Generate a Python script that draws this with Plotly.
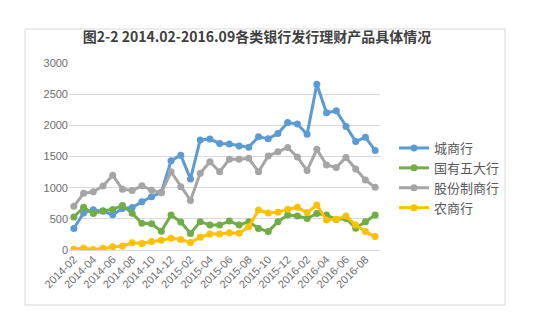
import plotly.graph_objects as go

months = ["2014-02", "2014-03", "2014-04", "2014-05", "2014-06", "2014-07", "2014-08", "2014-09",
          "2014-10", "2014-11", "2014-12", "2015-01", "2015-02", "2015-03", "2015-04", "2015-05",
          "2015-06", "2015-07", "2015-08", "2015-09", "2015-10", "2015-11", "2015-12", "2016-01",
          "2016-02", "2016-03", "2016-04", "2016-05", "2016-06", "2016-07", "2016-08", "2016-09"]

city_banks = [345, 595, 645, 620, 565, 665, 680, 775, 855, 925, 1430, 1520, 1140, 1765, 1780, 1710,
              1700, 1670, 1650, 1815, 1785, 1870, 2045, 2020, 1855, 2660, 2200, 2235, 1980, 1740, 1810, 1595]
big_five = [530, 685, 585, 630, 650, 715, 590, 430, 420, 300, 560, 450, 265, 455, 400, 400,
            465, 400, 455, 345, 295, 455, 560, 545, 505, 585, 560, 490, 505, 350, 455, 560]
joint_stock = [700, 910, 935, 1025, 1200, 975, 955, 1030, 960, 920, 1255, 1015, 795, 1230, 1415, 1255,
               1455, 1455, 1470, 1255, 1510, 1575, 1645, 1490, 1275, 1615, 1365, 1325, 1485, 1300, 1125, 1005]
rural = [12, 30, 8, 30, 52, 65, 115, 105, 135, 155, 190, 170, 120, 205, 255, 258,
         278, 268, 375, 640, 595, 604, 652, 684, 600, 722, 482, 492, 545, 400, 295, 215]

series_names = ["城商行", "国有五大行", "股份制商行", "农商行"]
series_values = [city_banks, big_five, joint_stock, rural]
colors = ["#5B9BD5", "#70AD47", "#A5A5A5", "#FFC000"]

tick_labels = months[::2]

fig = go.Figure()
for name, vals, col in zip(series_names, series_values, colors):
    fig.add_trace(go.Scatter(
        x=months, y=vals, name=name, mode="lines+markers",
        line=dict(color=col, width=3),
        marker=dict(color=col, size=7, symbol="circle"),
    ))

L, R, T, B = 69, 173, 63, 84
W, H = 553, 334
pw = W - L - R
ph = H - T - B

def px_x(p):
    return (p - L) / pw

def px_y(p):
    return (H - B - p) / ph

fig.update_layout(
    width=W, height=H,
    margin=dict(l=L, r=R, t=T, b=B),
    paper_bgcolor="white", plot_bgcolor="white",
    font=dict(family="Liberation Sans, Arial, sans-serif", color="#595959", size=11),
    title=dict(
        text="<b>图2-2 2014.02-2016.09各类银行发行理财产品具体情况</b>",
        font=dict(family="Noto Sans CJK SC", size=14, color="#404040"),
        x=257 / W, xanchor="center",
        y=1 - 37 / H, yanchor="middle",
    ),
    xaxis=dict(
        type="category", categoryorder="array", categoryarray=months,
        tickmode="array", tickvals=tick_labels, ticktext=tick_labels,
        tickangle=-45, showgrid=False, showline=False, ticks="",
        range=[-0.5, len(months) - 0.5], zeroline=False,
        tickfont=dict(size=11, color="#6E6E6E"),
    ),
    yaxis=dict(
        range=[0, 3000], tickvals=[0, 500, 1000, 1500, 2000, 2500, 3000],
        showgrid=True, gridcolor="#D9D9D9", gridwidth=1,
        zeroline=True, zerolinecolor="#D9D9D9", zerolinewidth=1,
        showline=False, ticks="", ticklen=0,
        tickfont=dict(size=11, color="#6E6E6E"),
    ),
    legend=dict(
        x=px_x(394), y=px_y(133), xanchor="left", yanchor="top",
        font=dict(family="Noto Sans CJK SC", size=13, color="#595959"),
        bgcolor="rgba(0,0,0,0)", itemwidth=30, tracegroupgap=0,
    ),
    showlegend=True,
    shapes=[dict(
        type="rect", xref="paper", yref="paper",
        x0=px_x(25), x1=px_x(505), y0=px_y(305), y1=px_y(29),
        line=dict(color="#D9D9D9", width=1), fillcolor="rgba(0,0,0,0)", layer="below",
    )],
)

fig.write_html("out.html")
